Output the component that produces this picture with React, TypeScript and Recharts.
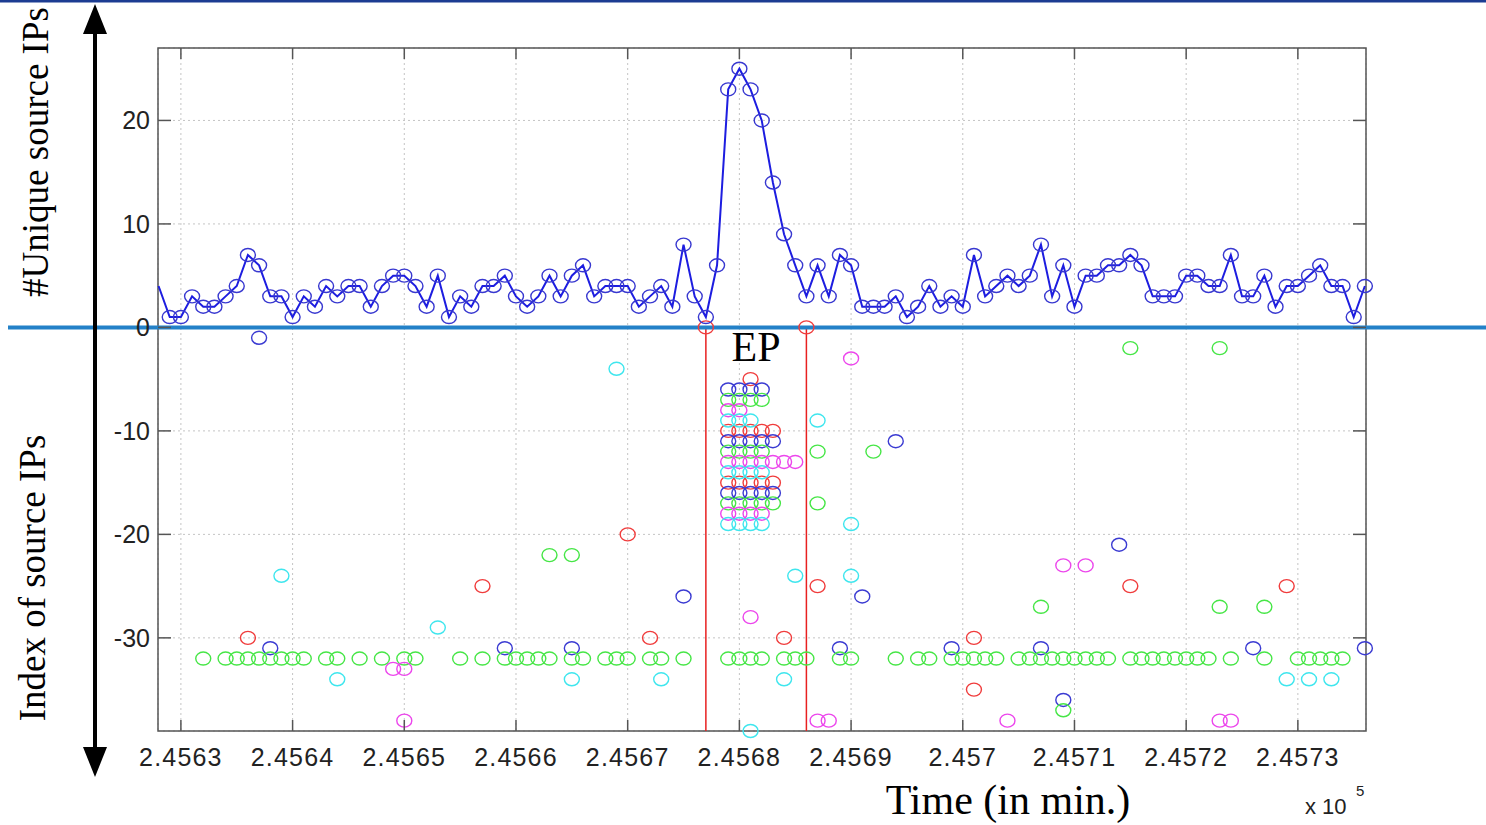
import React from "react";
import {
  ComposedChart, Line, Scatter, XAxis, YAxis, CartesianGrid,
  ReferenceLine, ReferenceArea,
} from "recharts";

/* ── Data ───────────────────────────────────────────────────────── */
// first minute of the count series (the first value lies just left of the window)
const FIRST_MINUTE = 245628;
// number of unique source IPs per minute
const UNIQUE_COUNTS = [
  4,
  1, 1, 3, 2, 2, 3, 4, 7, 6, 3, 3, 1, 3, 2, 4, 3, 4, 4, 2, 4, 5, 5, 4, 2, 5, 1,
  3, 2, 4, 4, 5, 3, 2, 3, 5, 3, 5, 6, 3, 4, 4, 4, 2, 3, 4, 2, 8, 3, 1, 6, 23, 25, 23, 20,
  14, 9, 6, 3, 6, 3, 7, 6, 2, 2, 2, 3, 1, 2, 4, 2, 3, 2, 7, 3, 4, 5, 4, 5, 8, 3, 6,
  2, 5, 5, 6, 6, 7, 6, 3, 3, 3, 5, 5, 4, 4, 7, 3, 3, 5, 2, 4, 4, 5, 6, 4, 4, 1, 4,
];

// source IP index -> minutes where that IP was seen
const IP_ROWS: [number, number[]][] = [
  [0, [245677, 245686]],
  [-1, [245637]],
  [-2, [245715, 245723]],
  [-3, [245690]],
  [-4, [245669]],
  [-5, [245681]],
  [-6, [245679, 245680, 245681, 245682]],
  [-7, [245679, 245680, 245681, 245682]],
  [-8, [245679, 245680]],
  [-9, [245679, 245680, 245681, 245687]],
  [-10, [245679, 245680, 245681, 245682, 245683]],
  [-11, [245679, 245680, 245681, 245682, 245683, 245694]],
  [-12, [245679, 245680, 245681, 245682, 245687, 245692]],
  [-13, [245679, 245680, 245681, 245682, 245683, 245684, 245685]],
  [-14, [245679, 245680, 245681, 245682]],
  [-15, [245679, 245680, 245681, 245682, 245683]],
  [-16, [245679, 245680, 245681, 245682, 245683]],
  [-17, [245679, 245680, 245681, 245682, 245683, 245687]],
  [-18, [245679, 245680, 245681, 245682]],
  [-19, [245679, 245680, 245681, 245682, 245690]],
  [-20, [245670]],
  [-21, [245714]],
  [-22, [245663, 245665]],
  [-23, [245709, 245711]],
  [-24, [245639, 245685, 245690]],
  [-25, [245657, 245687, 245715, 245729]],
  [-26, [245675, 245691]],
  [-27, [245707, 245723, 245727]],
  [-28, [245681]],
  [-29, [245653]],
  [-30, [245636, 245672, 245684, 245701]],
  [-31, [245638, 245659, 245665, 245689, 245699, 245707, 245726, 245736]],
  [-32, [
    245632, 245634, 245635, 245636, 245637, 245638, 245639, 245640, 245641, 245643,
    245644, 245646, 245648, 245650, 245651, 245655, 245657, 245659, 245660, 245661,
    245662, 245663, 245665, 245666, 245668, 245669, 245670, 245672, 245673, 245675,
    245679, 245680, 245681, 245682, 245684, 245685, 245686, 245689, 245690, 245694,
    245696, 245697, 245699, 245700, 245701, 245702, 245703, 245705, 245706, 245707,
    245708, 245709, 245710, 245711, 245712, 245713, 245715, 245716, 245717, 245718,
    245719, 245720, 245721, 245722, 245724, 245727, 245730, 245731, 245732, 245733,
    245734,
  ]],
  [-33, [245649, 245650]],
  [-34, [245644, 245665, 245673, 245684, 245729, 245731, 245733]],
  [-35, [245701]],
  [-36, [245709]],
  [-37, [245709]],
  [-38, [245650, 245687, 245688, 245704, 245723, 245724]],
  [-39, [245681]],
];

// attack episode boundaries (minutes)
const EP_BOUNDS = [245677, 245686];

const X_TICKS = [245630, 245640, 245650, 245660, 245670, 245680, 245690, 245700, 245710, 245720, 245730];
const Y_TICKS = [-30, -20, -10, 0, 10, 20];
const X_DOMAIN: [number, number] = [245627.95, 245736.1];
const Y_DOMAIN: [number, number] = [-39, 27];

/* ── Styles ─────────────────────────────────────────────────────── */
// colour cycles with the IP index: 0 red, -1 blue, -2 green, -3 magenta, -4 cyan
const CYCLE = ["#f03c3c", "#3b3bd2", "#46e646", "#ec46ec", "#3fe6ee"];
const LINE_BLUE = "#1d1de0";
const FRAME = "#555";

const W = 1486;
const H = 825;
const PLOT_TOP = 48;
const PLOT_LEFT = 158;
const PLOT_RIGHT = 1366;
const PLOT_BOTTOM = 731;

const SANS = "'Liberation Sans', Arial, sans-serif";
const SERIF = "'Liberation Serif', 'Times New Roman', serif";

const lineData = UNIQUE_COUNTS.map((v, i) => ({ t: FIRST_MINUTE + i, v, lead: i === 0 }));

const colorSeries = CYCLE.map((color, k) => ({
  color,
  data: IP_ROWS.filter(([idx]) => (-idx) % 5 === k).flatMap(([idx, mins]) =>
    mins.map((t) => ({ t, v: idx }))
  ),
}));

function fmtTime(t: number) {
  return String(Number((t / 1e5).toFixed(4)));
}

function TimeTick(props: any) {
  const { x, y, payload } = props;
  return (
    <g>
      <line x1={x} x2={x} y1={y} y2={y - 11} stroke={FRAME} strokeWidth={1.5} />
      <line x1={x} x2={x} y1={PLOT_TOP} y2={PLOT_TOP + 11} stroke={FRAME} strokeWidth={1.5} />
      <text x={x} y={y + 35} textAnchor="middle" fontFamily={SANS} fontSize={25}
        letterSpacing={1.2} fill="#222">
        {fmtTime(payload.value)}
      </text>
    </g>
  );
}

function IndexTick(props: any) {
  const { x, y, payload } = props;
  return (
    <g>
      <line x1={PLOT_LEFT} x2={PLOT_LEFT + 13} y1={y} y2={y} stroke={FRAME} strokeWidth={1.5} />
      <line x1={PLOT_RIGHT - 13} x2={PLOT_RIGHT} y1={y} y2={y} stroke={FRAME} strokeWidth={1.5} />
      <text x={x - 8} y={y + 9} textAnchor="end" fontFamily={SANS} fontSize={25} fill="#222">
        {payload.value}
      </text>
    </g>
  );
}

function ring(color: string) {
  return (p: any) => (
    <ellipse cx={p.cx} cy={p.cy} rx={7.5} ry={6.5} fill="none" stroke={color} strokeWidth={1.4} />
  );
}

function LineDot(p: any) {
  if (p.payload?.lead) return <g key={p.index} />;
  return (
    <ellipse key={p.index} cx={p.cx} cy={p.cy} rx={7.5} ry={6.5}
      fill="none" stroke="#3838d0" strokeWidth={1.4} />
  );
}

export default function App() {
  return (
    <div style={{ position: "absolute", left: 0, top: 0, width: W, height: H, background: "#fff" }}>
      <ComposedChart width={W} height={H}
        margin={{ top: PLOT_TOP, right: W - PLOT_RIGHT, bottom: 0, left: 0 }}>
        <CartesianGrid stroke="#c4c4c4" strokeDasharray="2 3" />
        <XAxis type="number" dataKey="t" domain={X_DOMAIN} ticks={X_TICKS}
          height={H - PLOT_BOTTOM} tick={<TimeTick />} tickLine={false} axisLine={false}
          tickSize={0} tickMargin={0} />
        <YAxis type="number" dataKey="v" domain={Y_DOMAIN} ticks={Y_TICKS}
          width={PLOT_LEFT} tick={<IndexTick />} tickLine={false} axisLine={false}
          tickSize={0} tickMargin={0} />
        <ReferenceArea x1={X_DOMAIN[0]} x2={X_DOMAIN[1]} y1={Y_DOMAIN[0]} y2={Y_DOMAIN[1]}
          fill="none" stroke={FRAME} strokeWidth={1.5} fillOpacity={0} ifOverflow="visible" />
        {EP_BOUNDS.map((t) => (
          <ReferenceLine key={t} segment={[{ x: t, y: 0 }, { x: t, y: Y_DOMAIN[0] }]}
            stroke="#e82020" strokeWidth={1.5} ifOverflow="visible" />
        ))}
        {colorSeries.map((s, k) => (
          <Scatter key={k} data={s.data} dataKey="v" shape={ring(s.color)}
            isAnimationActive={false} />
        ))}
        <Line data={lineData} dataKey="v" type="linear" stroke={LINE_BLUE} strokeWidth={2}
          dot={LineDot} activeDot={false} isAnimationActive={false} />
        <ReferenceLine y={0} ifOverflow="visible"
          shape={(p: any) => (
            <line x1={8} x2={W} y1={p.y1} y2={p.y2} stroke="#2381c8" strokeWidth={4} />
          )} />
      </ComposedChart>

      {/* ── slide annotations ─────────────────────────────────── */}
      <svg width={W} height={H} style={{ position: "absolute", left: 0, top: 0, pointerEvents: "none" }}>
        <rect x={0} y={0} width={W} height={2.5} fill="#1c3c92" />
        <line x1={95} x2={95} y1={28} y2={752} stroke="#000" strokeWidth={4} />
        <polygon points="95,4 83,34 107,34" fill="#000" />
        <polygon points="95,777 83,747 107,747" fill="#000" />
        <text transform="translate(48,152) rotate(-90)" textAnchor="middle"
          fontFamily={SERIF} fontSize={37} fill="#000">#Unique source IPs</text>
        <text transform="translate(45,578) rotate(-90)" textAnchor="middle"
          fontFamily={SERIF} fontSize={37} fill="#000">Index of source IPs</text>
        <text x={756} y={361} textAnchor="middle" fontFamily={SERIF} fontSize={42} fill="#000">EP</text>
        <text x={1008} y={814} textAnchor="middle" fontFamily={SERIF} fontSize={42} fill="#000">
          Time (in min.)
        </text>
        <text x={1305} y={814} fontFamily={SANS} fontSize={22} fill="#222">x 10</text>
        <text x={1356} y={796} fontFamily={SANS} fontSize={15} fill="#222">5</text>
      </svg>
    </div>
  );
}
